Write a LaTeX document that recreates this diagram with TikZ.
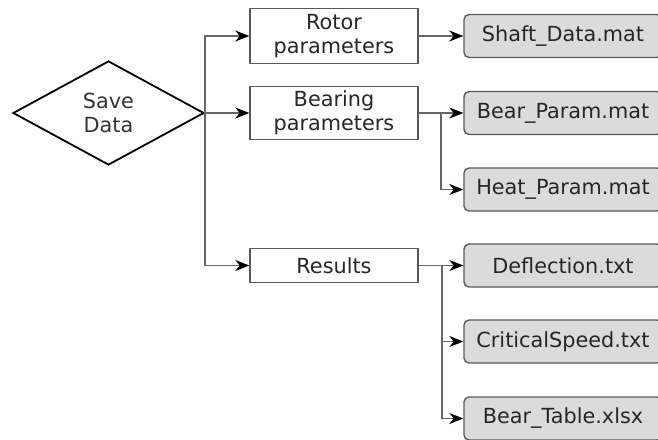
\documentclass[tikz,border=0pt]{standalone}
\usepackage{fontspec}
\setmainfont{DejaVu Sans}
\usetikzlibrary{arrows.meta,shapes.geometric,positioning}

\begin{document}
\begin{tikzpicture}[
x=0.5pt,y=-0.5pt,
Decision/.style={draw=black,line width=0.9pt,diamond,aspect=1.84,minimum width=95.5pt,minimum height=52pt,inner sep=0pt,align=center,text=black!80},
Folder/.style={draw=black!65,line width=0.7pt,minimum width=84pt,align=center,inner sep=0pt,text=black!85},
FileBox/.style={draw=black!65,fill=black!14,line width=0.7pt,rounded corners=2.5pt,minimum width=99pt,minimum height=21.5pt,inner sep=0pt,text=black!85},
Link/.style={draw=black!60,line width=0.65pt,-{Stealth[length=7pt,width=5.5pt,inset=2.2pt,black]}},
every node/.style={font=\fontsize{10.4}{12}\selectfont}
]
% page frame, in pixels of the original
\useasboundingbox (0,0) rectangle (658,439);

% decision and the three groups
\node[Decision] (save) at (108.5,113) {Save\\Data};
\node[Folder,minimum height=27.5pt] (rotor) at (334,36) {Rotor\\parameters};
\node[Folder,minimum height=26.5pt] (bearing) at (334,113) {Bearing\\parameters};
\node[Folder,minimum height=17pt] (results) at (334,265.5) {Results};

% saved files
\node[FileBox] (shaft) at (563,36) {Shaft\_Data.mat};
\node[FileBox] (bparam) at (563,113) {Bear\_Param.mat};
\node[FileBox] (heat) at (563,189.5) {Heat\_Param.mat};
\node[FileBox] (defl) at (563,265.5) {Deflection.txt};
\node[FileBox] (crit) at (563,341.5) {CriticalSpeed.txt};
\node[FileBox] (btable) at (563,418.5) {Bear\_Table.xlsx};

% split points of the branches
\coordinate (bsplit) at (441,113);
\coordinate (rsplit) at (442,265.5);

\draw[Link] (save.east) |- (rotor.west);
\draw[Link] (save.east) -- (bearing.west);
\draw[Link] (save.east) |- (results.west);

\draw[Link] (rotor.east) -- (shaft.west);
\draw[Link] (bearing.east) -- (bparam.west);
\draw[Link] (bsplit) |- (heat.west);

\draw[Link] (results.east) -- (defl.west);
\draw[Link] (rsplit) |- (crit.west);
\draw[Link] (rsplit) |- (btable.west);

\end{tikzpicture}
\end{document}
